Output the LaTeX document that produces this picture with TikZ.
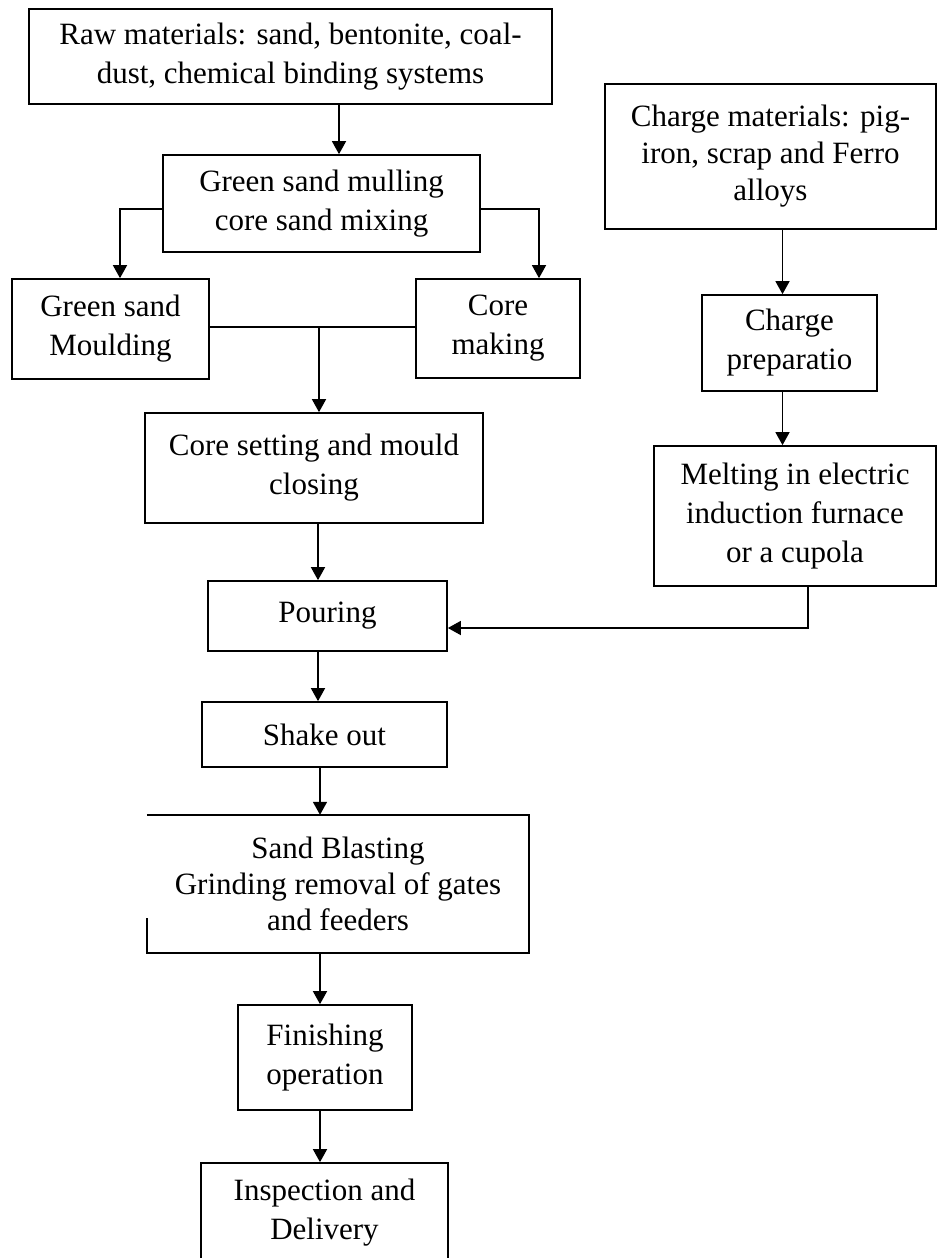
\documentclass[tikz,border=0pt]{standalone}
\usepackage{fontspec}
\setmainfont{Liberation Serif}
\usetikzlibrary{arrows.meta}
\begin{document}
\begin{tikzpicture}[x=1pt,y=-1pt,
  box/.style={draw, line width=1.7pt, inner sep=0pt, align=center,
    font=\fontsize{31}{39}\selectfont},
  plainbox/.style={inner sep=0pt, align=center, font=\fontsize{31}{36}\selectfont},
  arr/.style={line width=1.5pt, -{Triangle[length=13pt,width=14pt]}},
  ln/.style={line width=1.5pt}]
\useasboundingbox (0,0) rectangle (937,1258);
\fill[white] (0,0) rectangle (937,1258);

% left / centre column
\node[box, minimum width=523pt, minimum height=95pt] (raw) at (290.5,56.5)
  {Raw materials: sand, bentonite, coal-\\dust, chemical binding systems};
\node[box, minimum width=317pt, minimum height=97pt] (mull) at (321.5,203.5)
  {Green sand mulling\\core sand mixing};
\node[box, minimum width=197pt, minimum height=100pt] (gsm) at (110.5,329)
  {Green sand\\Moulding};
\node[box, minimum width=164pt, minimum height=99pt] (cmk) at (498,328.5)
  {Core\\making};
\node[box, minimum width=338pt, minimum height=110pt] (cset) at (314,468)
  {Core setting and mould\\closing};
\node[box, minimum width=239pt, minimum height=70pt] (pour) at (327.5,616)
  {Pouring};
\node[box, minimum width=245pt, minimum height=65pt] (shake) at (324.5,734.5)
  {Shake out};
\node[plainbox, minimum width=382pt, minimum height=138pt] (sandb) at (338,884)
  {Sand Blasting\\Grinding removal of gates\\and feeders};
\draw[line width=1.7pt] (sandb.north west) -- (sandb.north east)
  -- (sandb.south east) -- (sandb.south west) -- ++(0,-35);
\node[box, minimum width=174pt, minimum height=105pt] (fin) at (325,1057.5)
  {Finishing\\operation};
\node[box, minimum width=247pt, minimum height=99pt] (insp) at (324.5,1212.5)
  {Inspection and\\Delivery};

% right column
\node[box, font=\fontsize{31}{37}\selectfont, minimum width=331pt, minimum height=145pt] (chg) at (770.5,156.5)
  {Charge materials: pig-\\iron, scrap and Ferro\\alloys};
\node[box, minimum width=175pt, minimum height=96pt] (prep) at (789.5,343)
  {Charge\\preparatio};
\node[box, font=\fontsize{31}{39}\selectfont, minimum width=282pt, minimum height=140pt] (melt) at (795,516)
  {Melting in electric\\induction furnace\\or a cupola};

% helper coordinates
\coordinate (xa) at (339,0);
\coordinate (yb) at (0,209);
\coordinate (lb) at (120,209);
\coordinate (rb) at (539,209);
\coordinate (yc) at (0,327);
\coordinate (xc) at (319,327);
\coordinate (xd) at (318,0);
\coordinate (xe) at (320,0);
\coordinate (xf) at (782.5,0);
\coordinate (mc) at (808,628);

% connectors
\draw[arr] (raw.south -| xa) -- (mull.north -| xa);
\draw[arr] (mull.west |- yb) -- (lb) -- (gsm.north -| lb);
\draw[arr] (mull.east |- yb) -- (rb) -- (cmk.north -| rb);
\draw[ln] (gsm.east |- yc) -- (cmk.west |- yc);
\draw[arr] (xc) -- (cset.north -| xc);
\draw[arr] (cset.south -| xd) -- (pour.north -| xd);
\draw[arr] (pour.south -| xd) -- (shake.north -| xd);
\draw[arr] (shake.south -| xe) -- (sandb.north -| xe);
\draw[arr] (sandb.south -| xe) -- (fin.north -| xe);
\draw[arr] (fin.south -| xe) -- (insp.north -| xe);
\draw[arr] (chg.south -| xf) -- (prep.north -| xf);
\draw[arr] (prep.south -| xf) -- (melt.north -| xf);
\draw[arr] (melt.south -| mc) -- (mc) -- (pour.east |- mc);
\end{tikzpicture}
\end{document}
